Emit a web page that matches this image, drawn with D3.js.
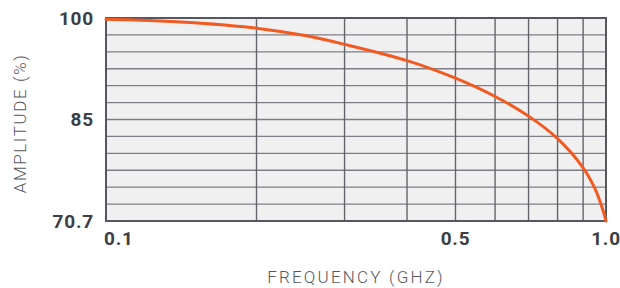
<!DOCTYPE html>
<html>
<head>
<meta charset="utf-8">
<script src="https://cdn.jsdelivr.net/npm/d3@7"></script>
<style>
  html, body { margin: 0; padding: 0; background: #fff; }
  svg { display: block; }
</style>
</head>
<body>
<svg id="chart" width="620" height="288"></svg>
<script>
// Data
const freq = [0.1, 0.125, 0.15, 0.2, 0.25, 0.3, 0.4, 0.5, 0.6, 0.7, 0.8, 0.9, 0.95, 0.98, 1.0];
const amplitude = [99.8, 99.6, 99.3, 98.5, 97.4, 96.1, 93.7, 91.1, 88.4, 85.5, 82.3, 78.2, 75.3, 72.8, 70.7];
const yTickValues = [70.7, 85, 100];
const yTickLabels = ["70.7", "85", "100"];
const xGridValues = [0.1, 0.2, 0.3, 0.4, 0.5, 0.6, 0.7, 0.8, 0.9, 1.0];
const xTickValues = [0.1, 0.5, 1.0];
const xTickLabels = ["0.1", "0.5", "1.0"];
const xTitle = "FREQUENCY (GHZ)";
const yTitle = "AMPLITUDE (%)";

const margin = { left: 106, right: 14, top: 18, bottom: 67 };
const W = 620, H = 288;
const x0 = margin.left, x1 = W - margin.right;
const y0 = H - margin.bottom, y1 = margin.top;

const x = d3.scaleLog().domain([0.1, 1.0]).range([x0, x1]);
// equal spacing between labelled values (12 grid intervals)
const y = d3.scaleLinear().domain([70.7, 85, 100]).range([y0, (y0 + y1) / 2, y1]);

const svg = d3.select("#chart");

svg.append("rect")
  .attr("x", x0).attr("y", y1)
  .attr("width", x1 - x0).attr("height", y0 - y1)
  .attr("fill", "#f0f0f0");

// horizontal grid: 12 intervals
const hGrid = d3.range(13).map(i => y0 + (y1 - y0) * i / 12);
svg.append("g").selectAll("line").data(hGrid).join("line")
  .attr("x1", x0).attr("x2", x1)
  .attr("y1", d => d).attr("y2", d => d)
  .attr("stroke", "#7c7f86").attr("stroke-width", 1.4);

svg.append("g").selectAll("line").data(xGridValues).join("line")
  .attr("x1", d => x(d)).attr("x2", d => x(d))
  .attr("y1", y1).attr("y2", y0)
  .attr("stroke", "#62656c").attr("stroke-width", 1.4);

// frame
svg.append("rect")
  .attr("x", x0).attr("y", y1)
  .attr("width", x1 - x0).attr("height", y0 - y1)
  .attr("fill", "none").attr("stroke", "#55585e").attr("stroke-width", 2);

// curve
const line = d3.line()
  .x((d, i) => x(freq[i]))
  .y((d, i) => y(amplitude[i]))
  .curve(d3.curveCatmullRom.alpha(0.5));
svg.append("path")
  .datum(amplitude)
  .attr("d", line)
  .attr("fill", "none")
  .attr("stroke", "#f25a22")
  .attr("stroke-width", 3)
  .attr("stroke-linecap", "round");

const tickFont = "Roboto, 'DejaVu Sans', sans-serif";

// y tick labels
svg.append("g").selectAll("text").data(yTickValues).join("text")
  .attr("x", x0 - 12)
  .attr("y", d => y(d))
  .attr("dy", "0.36em")
  .attr("text-anchor", "end")
  .attr("font-family", tickFont)
  .attr("font-weight", 700)
  .attr("font-size", 19)
  .attr("letter-spacing", 0.8)
  .attr("fill", "#3b3e44")
  .text((d, i) => yTickLabels[i]);

// x tick labels
svg.append("g").selectAll("text").data(xTickValues).join("text")
  .attr("x", (d, i) => i === 0 ? x(d) - 2 : x(d))
  .attr("y", y0 + 24)
  .attr("text-anchor", (d, i) => i === 0 ? "start" : "middle")
  .attr("font-family", tickFont)
  .attr("font-weight", 700)
  .attr("font-size", 19)
  .attr("letter-spacing", 0.8)
  .attr("fill", "#3b3e44")
  .text((d, i) => xTickLabels[i]);

// axis titles
svg.append("text")
  .attr("x", (x0 + x1) / 2)
  .attr("y", 283)
  .attr("text-anchor", "middle")
  .attr("font-family", tickFont)
  .attr("font-weight", 300)
  .attr("font-size", 17)
  .attr("letter-spacing", 2.2)
  .attr("fill", "#55585e")
  .text(xTitle);

svg.append("text")
  .attr("transform", `translate(26, ${(y0 + y1) / 2 + 4}) rotate(-90)`)
  .attr("text-anchor", "middle")
  .attr("font-family", tickFont)
  .attr("font-weight", 300)
  .attr("font-size", 17)
  .attr("letter-spacing", 1.6)
  .attr("fill", "#55585e")
  .text(yTitle);
</script>
</body>
</html>
